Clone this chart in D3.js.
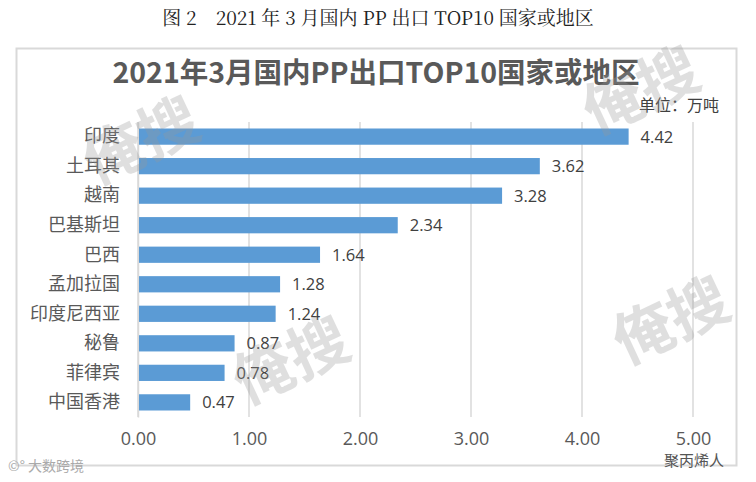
<!DOCTYPE html>
<html>
<head>
<meta charset="utf-8">
<script src="https://cdn.jsdelivr.net/npm/d3@7/dist/d3.min.js"></script>
<style>
  body { margin: 0; background: #fff; }
  svg text { font-family: "Microsoft YaHei", "Noto Sans CJK SC", sans-serif; }
</style>
</head>
<body>
<div id="chart"></div>
<script>
// данные
const categories = ['印度', '土耳其', '越南', '巴基斯坦', '巴西', '孟加拉国', '印度尼西亚', '秘鲁', '菲律宾', '中国香港']
const values = [4.42, 3.62, 3.28, 2.34, 1.64, 1.28, 1.24, 0.87, 0.78, 0.47]
const xTicks = [0, 1, 2, 3, 4, 5]

const W = 756, H = 482
const svg = d3.select('#chart').append('svg')
  .attr('width', W)
  .attr('height', H)

// рамка
svg.append('rect')
  .attr('x', 16.5).attr('y', 48.5)
  .attr('width', 720).attr('height', 417)
  .attr('fill', 'none')
  .attr('stroke', '#d9d9d9')
  .attr('stroke-width', 2)

// подпись сверху
svg.append('text')
  .attr('x', 378).attr('y', 25)
  .attr('text-anchor', 'middle')
  .style('font-family', '"Noto Serif CJK SC", "Liberation Serif", serif')
  .style('font-size', '19px')
  .attr('fill', '#222')
  .text('图 2　2021 年 3 月国内 PP 出口 TOP10 国家或地区')

svg.append('text')
  .attr('x', 376).attr('y', 83)
  .attr('text-anchor', 'middle')
  .style('font-size', '28.5px')
  .style('font-weight', 'bold')
  .attr('fill', '#595959')
  .text('2021年3月国内PP出口TOP10国家或地区')

svg.append('text')
  .attr('x', 719).attr('y', 111)
  .attr('text-anchor', 'end')
  .style('font-size', '16px')
  .attr('fill', '#404040')
  .text('单位：万吨')

const x = d3.scaleLinear().domain([0, 5]).range([138, 693])
const y = d3.scaleBand().domain(categories).range([122, 417]).paddingInner(0.45).paddingOuter(0.22)

// сетка
svg.append('g').selectAll('line')
  .data(xTicks)
  .join('line')
  .attr('x1', d => x(d)).attr('x2', d => x(d))
  .attr('y1', 122).attr('y2', 417)
  .attr('stroke', '#d9d9d9')
  .attr('stroke-width', 1.5)

// ось X
const xAxis = svg.append('g')
  .attr('transform', 'translate(0,417)')
  .call(d3.axisBottom(x).tickValues(xTicks).tickFormat(d3.format('.2f')).tickSize(0).tickPadding(15))
xAxis.select('.domain').remove()
xAxis.selectAll('text')
  .style('font-size', '18px')
  .style('font-family', '"Open Sans", "Noto Sans", sans-serif')
  .attr('fill', '#595959')

// ось Y
const yAxis = svg.append('g')
  .attr('transform', 'translate(138,0)')
  .call(d3.axisLeft(y).tickSize(0).tickPadding(18))
yAxis.select('.domain')
  .attr('stroke', '#d9d9d9')
  .attr('stroke-width', 1.5)
yAxis.selectAll('text')
  .style('font-size', '18px')
  .attr('fill', '#595959')

// столбцы
svg.append('g').selectAll('rect')
  .data(values)
  .join('rect')
  .attr('x', x(0) + 1)
  .attr('y', (d, i) => y(categories[i]))
  .attr('width', d => x(d) - x(0) - 1)
  .attr('height', y.bandwidth())
  .attr('fill', '#5b9bd5')

svg.append('g').selectAll('text')
  .data(values)
  .join('text')
  .attr('x', d => x(d) + 12)
  .attr('y', (d, i) => y(categories[i]) + y.bandwidth() / 2)
  .attr('dy', '0.36em')
  .style('font-size', '16.5px')
  .style('font-family', '"Open Sans", "Noto Sans", sans-serif')
  .attr('fill', '#404040')
  .text(d => d.toFixed(2))

// водяные знаки
const marks = [[150, 160, '俺搜'], [650, 110, '俺搜'], [300, 380, '俺搜'], [680, 340, '俺搜']]
svg.append('g').selectAll('text')
  .data(marks)
  .join('text')
  .attr('transform', d => `translate(${d[0]},${d[1]}) rotate(-25)`)
  .attr('text-anchor', 'middle')
  .style('font-size', '60px')
  .style('font-weight', 'bold')
  .attr('fill', '#999')
  .attr('opacity', 0.3)
  .text(d => d[2])

svg.append('text')
  .attr('x', 8).attr('y', 471)
  .style('font-size', '14px')
  .attr('fill', '#aaa')
  .text('©° 大数跨境')

svg.append('text')
  .attr('x', 664).attr('y', 466)
  .style('font-size', '15px')
  .attr('fill', '#555')
  .text('聚丙烯人')
</script>
</body>
</html>
